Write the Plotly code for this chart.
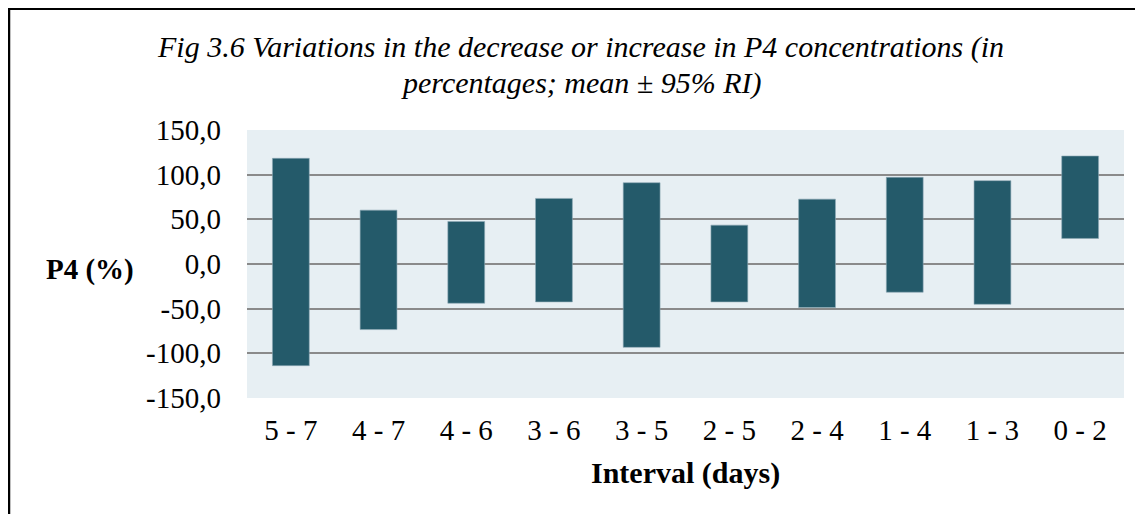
import plotly.graph_objects as go

categories = ["5 - 7", "4 - 7", "4 - 6", "3 - 6", "3 - 5", "2 - 5", "2 - 4", "1 - 4", "1 - 3", "0 - 2"]
upper = [118.3, 60.3, 47.6, 73.4, 91.0, 43.5, 72.6, 97.0, 93.3, 120.9]
lower = [-113.8, -73.4, -43.9, -42.4, -93.3, -42.4, -48.8, -31.6, -45.1, 28.6]
y_ticks = [-150, -100, -50, 0, 50, 100, 150]
y_tick_text = ["-150,0", "-100,0", "-50,0", "0,0", "50,0", "100,0", "150,0"]

heights = [u - l for u, l in zip(upper, lower)]

SERIF = "Liberation Serif, Times New Roman, serif"

# figure is drawn inside the page body (8px default margin)
W, H = 1135, 506
OFF = 8
PL, PR, PT, PB = 247 - OFF, 1124 - OFF, 130 - OFF, 397.7 - OFF
PW, PH = PR - PL, PB - PT


def px(xs):
    return (xs - OFF - PL) / PW


def py(ys):
    return (PB - (ys - OFF)) / PH


fig = go.Figure()
fig.add_trace(go.Bar(
    x=categories,
    y=heights,
    base=lower,
    width=0.42,
    marker=dict(color="#245A6A", line=dict(color="#8FAAB5", width=0.6)),
    hoverinfo="skip",
    showlegend=False,
))

fig.update_layout(
    width=W,
    height=H,
    margin=dict(l=PL, r=W - PR, t=PT, b=H - PB),
    paper_bgcolor="white",
    plot_bgcolor="#E7EFF3",
    font=dict(family=SERIF, size=29, color="black"),
    showlegend=False,
    xaxis=dict(
        type="category",
        showgrid=False,
        showline=False,
        zeroline=False,
        ticks="",
        ticklabelstandoff=12,
        tickfont=dict(family=SERIF, size=29, color="black"),
    ),
    yaxis=dict(
        range=[-150, 150],
        tickmode="array",
        tickvals=y_ticks,
        ticktext=y_tick_text,
        showgrid=True,
        gridcolor="#8A8A8A",
        gridwidth=2,
        zeroline=True,
        zerolinecolor="#8A8A8A",
        zerolinewidth=2,
        showline=False,
        ticks="",
        ticklabelstandoff=25,
        tickfont=dict(family=SERIF, size=29, color="black"),
    ),
    annotations=[
        dict(
            text="<i>Fig 3.6 Variations in the decrease or increase in P4 concentrations (in</i>",
            xref="paper", yref="paper",
            x=px(580), y=py(47),
            xanchor="center", yanchor="middle",
            showarrow=False,
            font=dict(family=SERIF, size=30, color="black"),
        ),
        dict(
            text="<i>percentages; mean ± 95% RI)</i>",
            xref="paper", yref="paper",
            x=px(581), y=py(83),
            xanchor="center", yanchor="middle",
            showarrow=False,
            font=dict(family=SERIF, size=30, color="black"),
        ),
        dict(
            text="<b>P4 (%)</b>",
            xref="paper", yref="paper",
            x=px(90), y=py(269),
            xanchor="center", yanchor="middle",
            showarrow=False,
            font=dict(family=SERIF, size=29, color="black"),
        ),
        dict(
            text="<b>Interval (days)</b>",
            xref="paper", yref="paper",
            x=px(685.5), y=py(473),
            xanchor="center", yanchor="middle",
            showarrow=False,
            font=dict(family=SERIF, size=30, color="black"),
        ),
    ],
    shapes=[
        dict(type="line", xref="paper", yref="paper",
             x0=px(9), x1=px(9),
             y0=py(7.5), y1=py(530),
             line=dict(color="black", width=2.5)),
        dict(type="line", xref="paper", yref="paper",
             x0=px(7.8), x1=px(1160),
             y0=py(9), y1=py(9),
             line=dict(color="black", width=2.5)),
    ],
)

fig.write_html("out.html")
